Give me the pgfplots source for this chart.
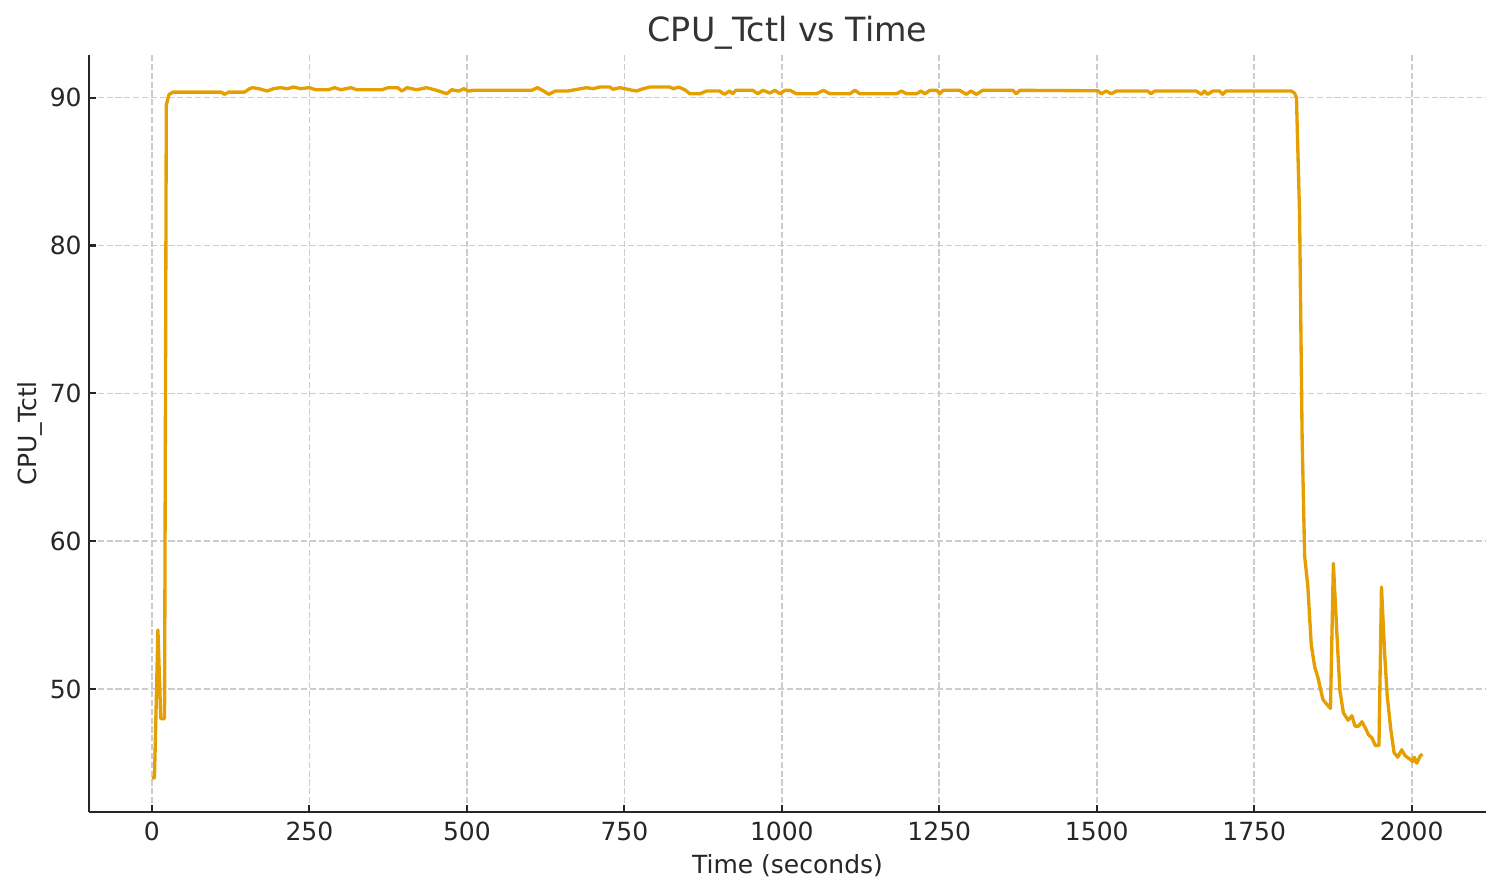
\documentclass[border=0pt]{standalone}
\usepackage{fontspec}
\setmainfont{DejaVu Sans}
\usepackage{pgfplots}
\pgfplotsset{compat=1.18}
\definecolor{lineorange}{HTML}{E69F00}
\definecolor{spine}{HTML}{262626}
\definecolor{gridgray}{HTML}{CCCCCC}

\begin{document}
\begin{tikzpicture}
\begin{axis}[
    name=main,
    scale only axis,
    width=670.6pt,
    height=363.4pt,
    xmin=-100, xmax=2118,
    ymin=41.69, ymax=92.88,
    xtick={0,250,500,750,1000,1250,1500,1750,2000},
    ytick={50,60,70,80,90},
    axis lines*=left,
    axis line style={color=spine, line width=1pt},
    tick style={color=spine, line width=1pt},
    major tick length=3.5pt,
    tick align=inside,
    grid=major,
    major grid style={color=gridgray, line width=0.8pt, dash pattern=on 2.96pt off 1.28pt},
    /pgf/number format/assume math mode=true,
    /pgf/number format/1000 sep={},
    ticklabel style={font=\fontsize{12}{14}\selectfont, color=spine},
    xticklabel style={yshift=-1pt},
    xlabel={Time (seconds)},
    ylabel={CPU\_Tctl},
    ylabel shift=-3.4pt,
    label style={font=\fontsize{12}{14}\selectfont, color=spine},
    title={CPU\_Tctl vs Time},
    title style={font=\fontsize{16}{19}\selectfont, color=black!80, yshift=-6.7pt},
]
% Tctl readings, sampled off the reference trace
\addplot[color=lineorange, line width=1.6pt, line join=round] coordinates {
    (0,44.0) (4,44.0) (9.5,54.0) (14,48.0) (20,48.0) (22.8,89.5) (27,90.2) (33,90.37)
    (110,90.37) (115,90.22) (122,90.37) (147,90.37) (155,90.6) (160,90.67) (170,90.6)
    (183,90.44) (193,90.6) (204,90.67) (215,90.6) (225,90.71) (236,90.6) (250,90.67)
    (260,90.53) (280,90.53) (290,90.67) (300,90.53) (316,90.67) (325,90.53) (365,90.53)
    (375,90.67) (390,90.67) (397,90.44) (405,90.67) (420,90.53) (436,90.67) (452,90.49)
    (468,90.26) (476,90.53) (487,90.44) (495,90.6) (503,90.44) (510,90.49) (603,90.49)
    (612,90.67) (622,90.44) (630,90.22) (640,90.44) (660,90.44) (671,90.53) (690,90.67)
    (700,90.6) (711,90.71) (727,90.71) (732,90.56) (743,90.67) (769,90.44) (780,90.6)
    (790,90.71) (822,90.71) (828,90.6) (836,90.71) (846,90.53) (854,90.26) (870,90.26)
    (880,90.44) (901,90.44) (909,90.22) (917,90.44) (922,90.26) (927,90.49) (954,90.49)
    (962,90.26) (970,90.49) (981,90.31) (989,90.49) (997,90.26) (1005,90.49) (1013,90.49)
    (1023,90.26) (1055,90.26) (1066,90.49) (1076,90.26) (1108,90.26) (1116,90.49) (1124,90.26)
    (1182,90.26) (1190,90.44) (1198,90.26) (1214,90.26) (1221,90.44) (1227,90.26) (1235,90.49)
    (1246,90.49) (1251,90.26) (1256,90.49) (1282,90.49) (1293,90.22) (1300,90.44) (1309,90.22)
    (1319,90.49) (1367,90.49) (1372,90.26) (1378,90.49) (1502,90.46) (1507,90.26) (1515,90.44)
    (1523,90.26) (1531,90.44) (1581,90.44) (1586,90.26) (1592,90.44) (1658,90.44) (1666,90.22)
    (1671,90.44) (1676,90.22) (1684,90.44) (1695,90.44) (1700,90.22) (1705,90.44) (1809,90.44)
    (1814,90.3) (1817,90.0) (1822,82.0) (1826,67.0) (1830,59.0) (1835,57.0) (1840.5,53.0)
    (1846,51.5) (1851,50.8) (1859,49.3) (1864.7,49.0) (1871,48.7) (1875.6,58.5) (1881,53.9)
    (1886,49.9) (1891.5,48.4) (1899,47.9) (1905,48.2) (1910,47.5) (1915.6,47.5) (1921,47.8)
    (1926,47.4) (1931.7,46.9) (1937,46.7) (1942,46.2) (1948,46.2) (1952,56.9) (1957,52.4)
    (1961,49.6) (1966.7,47.3) (1972,45.7) (1977.8,45.4) (1984,45.9) (1989.5,45.5) (1996,45.3)
    (2002,45.1) (2004,45.4) (2008,45.0) (2013.7,45.5) (2017,45.6)
};
\end{axis}
\pgfresetboundingbox
\path ([xshift=-42.7pt,yshift=-39.4pt]main.south west) rectangle ([xshift=6.7pt,yshift=26.4pt]main.north east);
\end{tikzpicture}
\end{document}
